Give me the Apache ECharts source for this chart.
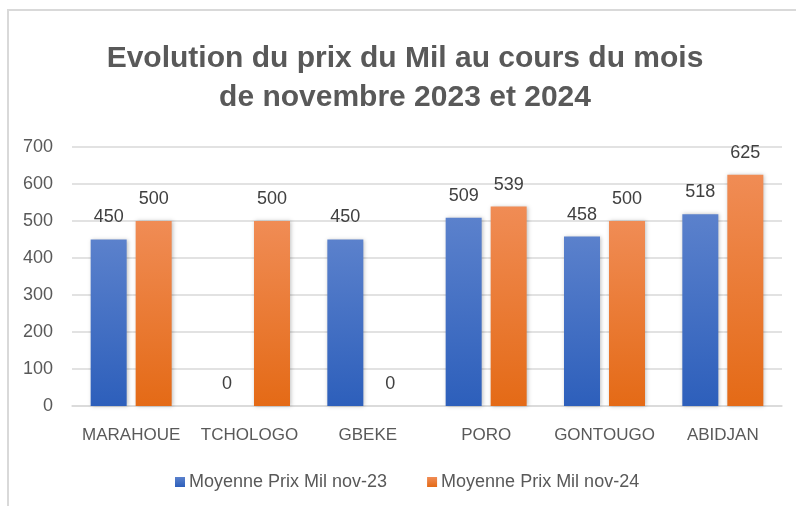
<!DOCTYPE html>
<html>
<head>
<meta charset="utf-8">
<script src="https://cdn.jsdelivr.net/npm/echarts@6/dist/echarts.min.js"></script>
<style>
  html, body { margin: 0; padding: 0; background: #fff; }
  #chart { width: 796px; height: 506px; }
</style>
</head>
<body>
<div id="chart"></div>
<script>
  const regions = ['MARAHOUE', 'TCHOLOGO', 'GBEKE', 'PORO', 'GONTOUGO', 'ABIDJAN']
  const prix2023 = [450, 0, 450, 509, 458, 518]
  const prix2024 = [500, 500, 0, 539, 500, 625]
  const seriesNames = ['Moyenne Prix Mil nov-23', 'Moyenne Prix Mil nov-24']
  const titre = 'Evolution du prix du Mil au cours du mois\nde novembre 2023 et 2024'

  const font = '"Liberation Sans", Arial, sans-serif'

  function grad(top, bottom) {
    return new echarts.graphic.LinearGradient(0, 0, 0, 1, [
      { offset: 0, color: top },
      { offset: 1, color: bottom }
    ])
  }

  const chart = echarts.init(document.getElementById('chart'))
  const labelStyle = {
    show: true,
    position: 'top',
    distance: 13,
    color: '#404040',
    fontSize: 18,
    fontFamily: font
  }

  chart.setOption({
    animation: false,
    graphic: [
      {
        type: 'rect',
        shape: { x: 8, y: 10, width: 800, height: 510 },
        style: { fill: 'none', stroke: '#d9d9d9', lineWidth: 2 }
      },
      {
        // titre centré un peu à droite, comme dans l'original
        type: 'text',
        x: 405,
        y: 39,
        style: {
          text: titre,
          align: 'center',
          verticalAlign: 'top',
          font: 'bold 30px ' + font,
          lineHeight: 39,
          fill: '#595959'
        }
      }
    ],
    legend: {
      data: seriesNames,
      bottom: 10,
      left: 170,
      itemWidth: 10,
      itemHeight: 10,
      itemGap: 40,
      icon: 'rect',
      textStyle: { fontFamily: font, fontSize: 18, color: '#595959', padding: [0, 0, 0, -1] }
    },
    grid: { left: 72, right: 14, top: 147, bottom: 100 },
    xAxis: {
      type: 'category',
      data: regions,
      axisTick: { show: false },
      axisLine: { lineStyle: { color: '#d9d9d9', width: 1.5 } },
      axisLabel: { interval: 0, margin: 21, fontFamily: font, fontSize: 17, color: '#595959' }
    },
    yAxis: {
      type: 'value',
      min: 0,
      max: 700,
      interval: 100,
      axisLine: { show: false },
      axisTick: { show: false },
      splitLine: { lineStyle: { color: '#d9d9d9', width: 1.5 } },
      axisLabel: { margin: 19, fontFamily: font, fontSize: 18, color: '#595959' }
    },
    series: [
      {
        name: seriesNames[0],
        type: 'bar',
        data: prix2023,
        barWidth: 36,
        barGap: '25%',
        itemStyle: {
          color: grad('#5b81cc', '#2d5fbb'),
          shadowColor: 'rgba(0,0,0,0.25)',
          shadowBlur: 4,
          shadowOffsetX: 1
        },
        label: labelStyle
      },
      {
        name: seriesNames[1],
        type: 'bar',
        data: prix2024,
        barWidth: 36,
        itemStyle: {
          color: grad('#f08c55', '#e46a16'),
          shadowColor: 'rgba(0,0,0,0.25)',
          shadowBlur: 4,
          shadowOffsetX: 1
        },
        label: labelStyle
      }
    ]
  })
</script>
</body>
</html>
